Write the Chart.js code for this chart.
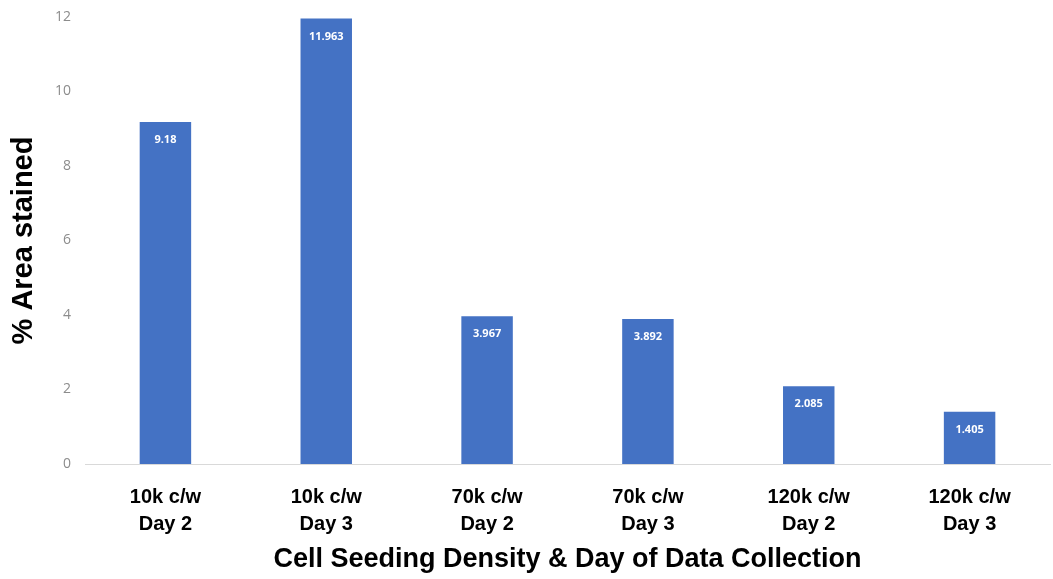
<!DOCTYPE html>
<html>
<head>
<meta charset="utf-8">
<script src="https://cdn.jsdelivr.net/npm/chart.js@4"></script>
<style>
  html, body { margin: 0; padding: 0; background: #ffffff; }
  #wrap { width: 1053px; height: 579px; position: relative; }
</style>
</head>
<body>
<div id="wrap"><canvas id="c" width="1053" height="579"></canvas></div>
<script>
// Category labels (two lines each) and measured % area stained
const categories = [
  ["10k c/w", "Day 2"],
  ["10k c/w", "Day 3"],
  ["70k c/w", "Day 2"],
  ["70k c/w", "Day 3"],
  ["120k c/w", "Day 2"],
  ["120k c/w", "Day 3"]
];
const areaStained = [9.18, 11.963, 3.967, 3.892, 2.085, 1.405];
const valueLabels = ["9.18", "11.963", "3.967", "3.892", "2.085", "1.405"];
const yTicks = [0, 2, 4, 6, 8, 10, 12];

// Writes each bar's value in white just inside its top
const barValuePlugin = {
  id: 'barValues',
  afterDatasetsDraw(chart) {
    const ctx = chart.ctx;
    const meta = chart.getDatasetMeta(0);
    ctx.save();
    ctx.fillStyle = '#ffffff';
    ctx.font = 'bold 11px "Open Sans", "Liberation Sans", sans-serif';
    ctx.textAlign = 'center';
    ctx.textBaseline = 'middle';
    meta.data.forEach((bar, i) => {
      ctx.fillText(valueLabels[i], bar.x, bar.y + 18);
    });
    ctx.restore();
  }
};

new Chart(document.getElementById('c'), {
  type: 'bar',
  data: {
    labels: categories,
    datasets: [{
      data: areaStained,
      backgroundColor: '#4472C4',
      borderWidth: 0,
      barPercentage: 0.64,
      categoryPercentage: 0.5
    }]
  },
  options: {
    responsive: false,
    animation: false,
    layout: { padding: { top: 0, right: 3, left: 0, bottom: 0 } },
    plugins: {
      legend: { display: false },
      tooltip: { enabled: false }
    },
    scales: {
      y: {
        min: 0,
        max: 12,
        afterBuildTicks: (scale) => { scale.ticks = yTicks.map(v => ({ value: v })); },
        afterFit: (scale) => { scale.width = 85; scale.paddingTop = 17; },
        grid: { display: false, drawTicks: false },
        border: { display: false },
        ticks: {
          color: '#8c8c8c',
          padding: 14,
          font: { family: '"Open Sans", "Liberation Sans", sans-serif', size: 14 }
        },
        title: {
          display: true,
          text: '% Area stained',
          color: '#000000',
          padding: { top: 7, bottom: 0 },
          font: { family: '"Liberation Sans", Arial, sans-serif', size: 29, weight: 'bold' }
        }
      },
      x: {
        afterFit: (scale) => { scale.height = 579 - 464; },
        grid: { display: false, drawTicks: false },
        border: { display: true, color: '#d9d9d9', width: 1 },
        ticks: {
          color: '#000000',
          padding: 20,
          maxRotation: 0,
          autoSkip: false,
          font: { family: '"Liberation Sans", Arial, sans-serif', size: 20, weight: 'bold', lineHeight: 1.35 }
        },
        title: {
          display: true,
          text: 'Cell Seeding Density & Day of Data Collection',
          color: '#000000',
          padding: { top: 5, bottom: 3 },
          font: { family: '"Liberation Sans", Arial, sans-serif', size: 27, weight: 'bold' }
        }
      }
    }
  },
  plugins: [barValuePlugin]
});
</script>
</body>
</html>
